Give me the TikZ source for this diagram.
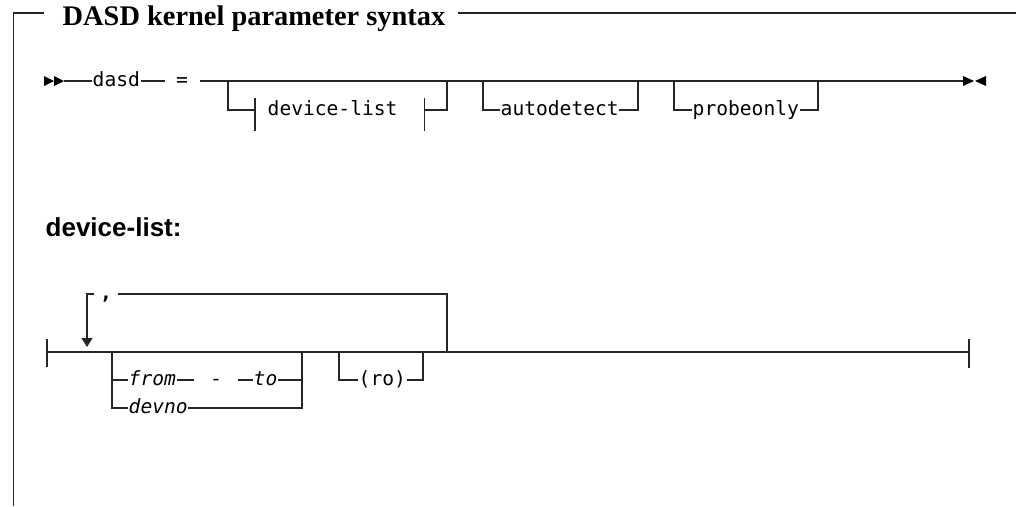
\documentclass[tikz,border=0pt]{standalone}
\usepackage{fontspec}
\setmainfont{Liberation Serif}
\setsansfont{Liberation Sans}
\setmonofont{DejaVu Sans Mono}
\usetikzlibrary{arrows.meta}

\begin{document}
\ttfamily\fontsize{19.6}{22}\selectfont
\begin{tikzpicture}[x=1pt, y=-1pt, line width=1.4pt, draw=black!85,
  kw/.style = {inner sep=0, anchor=mid west, font=\ttfamily\fontsize{19.6}{22}\selectfont},
  var/.style = {kw, font=\ttfamily\itshape\fontsize{19.6}{22}\selectfont},
  frag/.style = {kw, text width=144pt, inner xsep=12pt, align=left}]
  \useasboundingbox (0,0) rectangle (1016,506);

  % frame and title
  \node[anchor=base west, inner sep=0, font=\rmfamily\bfseries\fontsize{28.4}{32}\selectfont] (title) at (62,25) {DASD kernel parameter syntax};
  \draw (13.5,506) -- (13.5,13) -- (44,13);
  \draw (458,13) -- (1016,13);

  % dasd = ...
  \fill (44,76) -- (54,81) -- (44,86) -- cycle (54,76) -- (64,81) -- (54,86) -- cycle;
  \coordinate (s0) at (64,81);
  \node[kw] (dasd) at (92,81) {dasd};
  \coordinate (s1) at (165,81);
  \node[kw, anchor=mid] (eq) at (182,81) {=};
  \coordinate (m0) at (200,81);
  \coordinate (mE) at (963,81);
  \coordinate (b1) at (228,81);
  \coordinate (b2) at (447,81);
  \coordinate (a1) at (483,81);
  \coordinate (a2) at (638,81);
  \coordinate (p1) at (674,81);
  \coordinate (p2) at (818,81);
  \node[frag] (dl) at (255,110) {device-list};
  \node[kw] (ad) at (500,110) {autodetect};
  \node[kw] (po) at (692,110) {probeonly};

  \draw (s0) -- (dasd.mid west);
  \draw (dasd.mid east) -- (s1);
  \draw (m0) -- (mE);
  \draw (b1) |- (dl.mid west);
  \draw (dl.mid east) -| (b2);
  \draw (dl.mid west) ++(0,-12) -- ++(0,33) (dl.mid east) ++(0,-12) -- ++(0,33);
  \draw (a1) |- (ad.mid west);
  \draw (ad.mid east) -| (a2);
  \draw (p1) |- (po.mid west);
  \draw (po.mid east) -| (p2);
  \fill (963,76) -- (974,81) -- (963,86) -- cycle (986,76) -- (975,81) -- (986,86) -- cycle;

  % device-list fragment
  \node[anchor=base west, inner sep=0, font=\sffamily\bfseries\fontsize{26}{30}\selectfont] (sub) at (45,236) {device-list:};
  \coordinate (l0) at (47,352);
  \coordinate (lE) at (969,352);
  \draw (l0) -- (lE);
  \draw (l0) ++(0,-13) -- ++(0,28) (lE) ++(0,-13) -- ++(0,29);

  \coordinate (rp) at (447,352);
  \coordinate (rt) at (87,347);
  \node[kw, anchor=mid, inner xsep=5pt, font=\ttfamily\bfseries\fontsize{19.6}{22}\selectfont] (cm) at (106,294) {,};
  \draw (rp) |- (cm.mid east);
  \draw[-{Triangle[width=11pt, length=9pt]}] (cm.mid west) -| (rt);

  \coordinate (f0) at (112,352);
  \coordinate (f1) at (302,352);
  \node[var] (from) at (128,380) {from};
  \node[kw, anchor=mid, inner xsep=15pt] (hy) at (216,380) {-};
  \node[var] (to) at (253,380) {to};
  \node[var] (devno) at (128,408) {devno};
  \draw (f0) |- (from.mid west);
  \draw (from.mid east) -- (hy.mid west);
  \draw (hy.mid east) -- (to.mid west);
  \draw (to.mid east) -| (f1);
  \draw (f0) |- (devno.mid west);
  \draw (devno.mid east) -| (f1);

  \coordinate (r0) at (339,352);
  \coordinate (r1) at (423,352);
  \node[kw] (ro) at (358,380) {(ro)};
  \draw (r0) |- (ro.mid west);
  \draw (ro.mid east) -| (r1);
\end{tikzpicture}
\end{document}
